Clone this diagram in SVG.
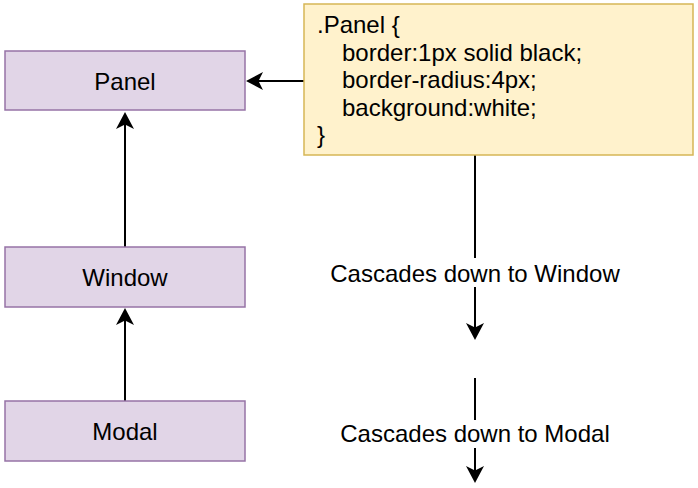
<svg xmlns="http://www.w3.org/2000/svg" width="698" height="488" viewBox="0 0 698 488">
<style>
.node{fill:#e1d5e7;stroke:#9673a6;stroke-width:1.5}
.code{fill:#fff2cc;stroke:#d6b656;stroke-width:1.5}
.t{font-family:"Liberation Sans",Arial,sans-serif;font-size:24px;fill:#000}
.c{text-anchor:middle}
.edge{stroke:#000;stroke-width:2;fill:none}
.lbl{fill:#fff}
</style>
<defs>
<marker id="arr" markerUnits="userSpaceOnUse" viewBox="-8 -10 19 20" markerWidth="19" markerHeight="20" refX="0" refY="0" orient="auto" overflow="visible">
<path d="M10,0 L-7,-9 L-2.5,0 L-7,9 Z" fill="#000"/>
</marker>
</defs>
<rect width="698" height="488" fill="#fff"/>
<g id="connectors">
<line class="edge" x1="304" y1="81" x2="256" y2="81" marker-end="url(#arr)"/>
<line class="edge" x1="125" y1="247" x2="125" y2="122" marker-end="url(#arr)"/>
<line class="edge" x1="125" y1="401" x2="125" y2="318" marker-end="url(#arr)"/>
<line class="edge" x1="475" y1="155" x2="475" y2="330" marker-end="url(#arr)"/>
<rect class="lbl" x="328" y="258" width="296" height="29"/>
<text class="t c" x="475" y="282">Cascades down to Window</text>
<line class="edge" x1="475" y1="378" x2="475" y2="473" marker-end="url(#arr)"/>
<rect class="lbl" x="336" y="420" width="278" height="28"/>
<text class="t c" x="475" y="442">Cascades down to Modal</text>
</g>
<g id="panel">
<rect class="node" x="5" y="51" width="240" height="59"/>
<text class="t c" x="125" y="89.5">Panel</text>
</g>
<g id="window">
<rect class="node" x="5" y="247" width="240" height="60"/>
<text class="t c" x="125" y="285.5">Window</text>
</g>
<g id="modal">
<rect class="node" x="5" y="401" width="240" height="60"/>
<text class="t c" x="125" y="440">Modal</text>
</g>
<g id="css">
<rect class="code" x="304" y="4" width="389" height="151"/>
<text class="t" x="317" y="33">.Panel {</text>
<text class="t" x="342" y="60.5">border:1px solid black;</text>
<text class="t" x="342" y="88">border-radius:4px;</text>
<text class="t" x="342" y="115.5">background:white;</text>
<text class="t" x="317" y="143">}</text>
</g>
</svg>
